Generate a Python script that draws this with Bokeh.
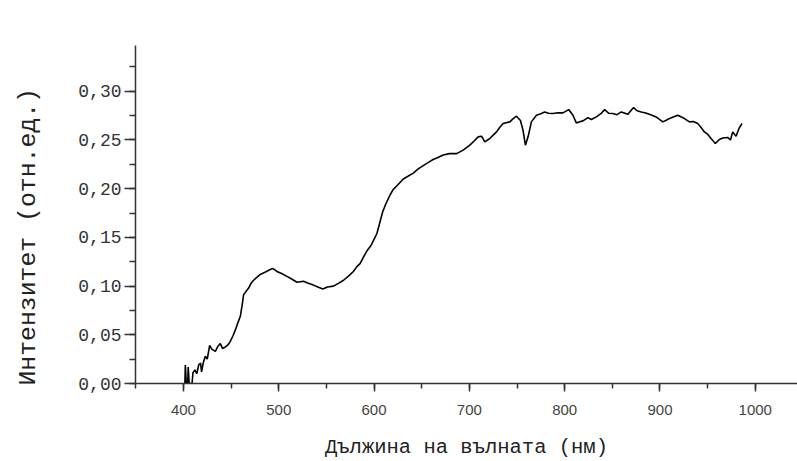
from bokeh.plotting import figure
from bokeh.models import Range1d, SingleIntervalTicker, CustomJSTickFormatter
from bokeh.embed import file_html
from bokeh.resources import INLINE

# Spectrum
wavelength = [401.5, 402, 403, 404.5, 405, 406, 409, 410, 412, 414, 416, 418, 419, 421, 423, 425,
              427.5, 430, 433.5, 436, 438.7, 441, 444, 447, 449, 452, 454.5, 457, 459.7, 461.5,
              463.1, 466, 468.4, 471, 473.6, 477, 480.6, 485, 491.1, 494, 498.1, 503, 508.6, 514,
              519.1, 526, 531, 536.4, 541, 546.3, 551, 557.4, 563, 568, 574, 578.3, 582, 585.3,
              589, 592.4, 597, 601, 603, 606.3, 609, 612.6, 616.8, 620, 625, 630.7, 636, 641.2,
              646, 651.6, 657, 662, 667, 672.6, 679, 686.6, 693.5, 700.5, 705, 709.2, 712.8, 716.2,
              721.5, 725, 728.5, 732, 735.4, 742.4, 746, 749.4, 753.6, 756.3, 758.8, 761.6, 765.1,
              770.4, 775, 779, 783, 787.8, 793, 798.2, 804.2, 808.7, 812.2, 815, 819.2, 824.4, 828,
              833.2, 838, 841.9, 846, 850.6, 855, 859.4, 866.3, 872.3, 876, 880.3, 884, 889, 896,
              903, 906, 910, 918.6, 925.7, 930.9, 935, 939.6, 943, 946.6, 950, 953.6, 958.1, 962.3,
              966, 971, 974, 976.3, 979.8, 983, 986.1]
intensity = [0.0, 0.019, 0.0, 0.0, 0.017, 0.0, 0.0, 0.011, 0.014, 0.010, 0.019, 0.021, 0.012, 0.022,
             0.028, 0.025, 0.039, 0.035, 0.033, 0.038, 0.041, 0.036, 0.0375, 0.040, 0.043, 0.049,
             0.055, 0.062, 0.069, 0.080, 0.091, 0.095, 0.098, 0.103, 0.106, 0.109, 0.112, 0.114,
             0.117, 0.118, 0.115, 0.113, 0.110, 0.107, 0.104, 0.105, 0.103, 0.101, 0.099, 0.097,
             0.099, 0.100, 0.103, 0.106, 0.111, 0.115, 0.120, 0.123, 0.130, 0.136, 0.142, 0.150,
             0.154, 0.166, 0.176, 0.185, 0.1935, 0.199, 0.204, 0.210, 0.213, 0.216, 0.220, 0.2236,
             0.227, 0.230, 0.232, 0.2345, 0.236, 0.236, 0.2396, 0.2447, 0.249, 0.2532, 0.2539, 0.248,
             0.2515, 0.255, 0.2583, 0.263, 0.2669, 0.2686, 0.272, 0.2744, 0.270, 0.260, 0.2447,
             0.2532, 0.2686, 0.2754, 0.277, 0.2788, 0.2775, 0.2772, 0.278, 0.2778, 0.2812, 0.2754,
             0.2675, 0.2685, 0.2696, 0.273, 0.271, 0.2737, 0.277, 0.2812, 0.2775, 0.2772, 0.276,
             0.2788, 0.2764, 0.2833, 0.280, 0.2788, 0.278, 0.2764, 0.2737, 0.2686, 0.270, 0.272,
             0.2754, 0.272, 0.2686, 0.269, 0.2669, 0.263, 0.2583, 0.256, 0.2515, 0.2464, 0.2505,
             0.252, 0.2526, 0.250, 0.2583, 0.2539, 0.262, 0.2669]

x_title = "Дължина на вълната (нм)"
y_title = "Интензитет (отн.ед.)"

p = figure(width=797, height=461, output_backend="svg", toolbar_location=None,
           x_range=Range1d(349.7, 1044.3), y_range=Range1d(0, 0.347),
           min_border_left=135, min_border_right=0, min_border_top=45, min_border_bottom=77)
p.outline_line_color = None
p.xgrid.visible = False
p.ygrid.visible = False
p.background_fill_color = "white"

p.line(wavelength, intensity, line_color="black", line_width=1.6)

xa = p.xaxis[0]
xa.ticker = SingleIntervalTicker(interval=100, num_minor_ticks=2)
xa.axis_line_color = "#333333"
xa.axis_line_width = 1.5
xa.major_tick_line_color = "#333333"
xa.major_tick_line_width = 1.5
xa.minor_tick_line_color = "#333333"
xa.minor_tick_line_width = 1.5
xa.major_tick_out = 8
xa.major_tick_in = 0
xa.minor_tick_out = 5
xa.minor_tick_in = 0
xa.major_label_text_font = "Liberation Sans"
xa.major_label_text_font_size = "15px"
xa.major_label_text_color = "#444444"
xa.major_label_standoff = 13
xa.axis_label = x_title
xa.axis_label_text_font = "Liberation Mono"
xa.axis_label_text_font_size = "20.5px"
xa.axis_label_text_font_style = "normal"
xa.axis_label_text_color = "#222222"
xa.axis_label_standoff = 18

ya = p.yaxis[0]
ya.ticker = SingleIntervalTicker(interval=0.05, num_minor_ticks=2)
ya.formatter = CustomJSTickFormatter(code="return tick.toFixed(2).replace('.', ',');")
ya.axis_line_color = "#333333"
ya.axis_line_width = 1.5
ya.major_tick_line_color = "#333333"
ya.major_tick_line_width = 1.5
ya.minor_tick_line_color = "#333333"
ya.minor_tick_line_width = 1.5
ya.major_tick_out = 11
ya.major_tick_in = 0
ya.minor_tick_out = 6
ya.minor_tick_in = 0
ya.major_label_text_font = "Liberation Mono"
ya.major_label_text_font_size = "18px"
ya.major_label_text_color = "#333333"
ya.major_label_standoff = 3
# non-breaking spaces push the centred label down to where the reference has it
ya.axis_label = y_title + "\u00a0\u00a0\u00a0"
ya.axis_label_text_font = "Liberation Mono"
ya.axis_label_text_font_size = "24.8px"
ya.axis_label_text_font_style = "normal"
ya.axis_label_text_color = "#222222"
ya.axis_label_standoff = 33

open("out.html", "w").write(file_html(p, INLINE))
